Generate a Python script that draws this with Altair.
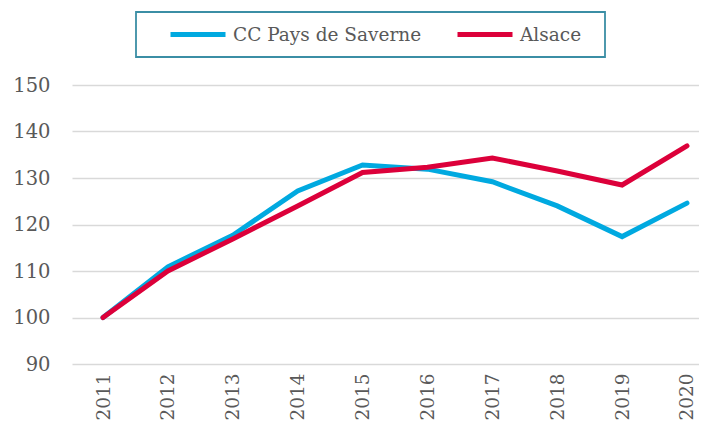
import altair as alt
import pandas as pd

years = list(range(2011, 2021))
saverne = [100, 110.9, 117.7, 127.2, 132.8, 131.9, 129.2, 124.0, 117.4, 124.6]
alsace = [100, 110.0, 116.9, 124.0, 131.2, 132.3, 134.3, 131.5, 128.5, 136.9]
series_names = ["CC Pays de Saverne", "Alsace"]
series_colors = ["#00a9e0", "#dc003a"]
y_ticks = [90, 100, 110, 120, 130, 140, 150]

rows = []
for name, vals in zip(series_names, [saverne, alsace]):
    for yr, v in zip(years, vals):
        rows.append({"year": yr, "value": v, "series": name})
df = pd.DataFrame(rows)

FONT = "DejaVu Serif"
TXT = "#595959"

x = alt.X(
    "year:Q",
    scale=alt.Scale(domain=[2010.522, 2020.185], zero=False, nice=False),
    axis=alt.Axis(
        values=years, format="d", labelAngle=270, title=None, grid=False,
        domain=False, ticks=False, labelPadding=9, labelFont=FONT,
        labelFontSize=18.5, labelColor=TXT,
    ),
)
y = alt.Y(
    "value:Q",
    scale=alt.Scale(domain=[90, 150], zero=False, nice=False),
    axis=alt.Axis(
        values=y_ticks, title=None, domain=False, ticks=False, grid=True,
        gridColor="#d9d9d9", gridWidth=1.5, labelPadding=22, labelFont=FONT,
        labelFontSize=19.5, labelColor=TXT,
    ),
)
color = alt.Color(
    "series:N",
    scale=alt.Scale(domain=series_names, range=series_colors),
    legend=alt.Legend(
        title=None, orient="none", legendX=96, legendY=-62.5, direction="horizontal",
        columns=2, symbolType="stroke", symbolSize=3025, symbolStrokeWidth=5,
        labelFont=FONT, labelFontSize=18.5, labelColor=TXT, labelOffset=5,
        labelLimit=0, columnPadding=33, padding=0, clipHeight=24,
    ),
)

base = alt.Chart(df)
blue = base.transform_filter(alt.datum.series == series_names[0]).mark_line(
    strokeWidth=5, strokeCap="round"
).encode(x=x, y=y, color=color)
red = base.transform_filter(alt.datum.series == series_names[1]).mark_line(
    strokeWidth=5, strokeCap="round"
).encode(x=x, y=y, color=color)

frame = alt.Chart(alt.Data(values=[{}])).mark_rect(
    fill="white", fillOpacity=0, stroke="#3b8ea5", strokeWidth=1.8
).encode(
    x=alt.value(64), x2=alt.value(533), y=alt.value(-73), y2=alt.value(-28)
)

chart = alt.layer(frame, blue, red).properties(
    width=627, height=279,
    autosize=alt.AutoSizeParams(type="none"),
    padding={"left": 64, "top": 77, "right": 0, "bottom": 60},
).configure_view(stroke=None)

chart.save("out.html", embed_options={"renderer": "svg", "actions": False})
